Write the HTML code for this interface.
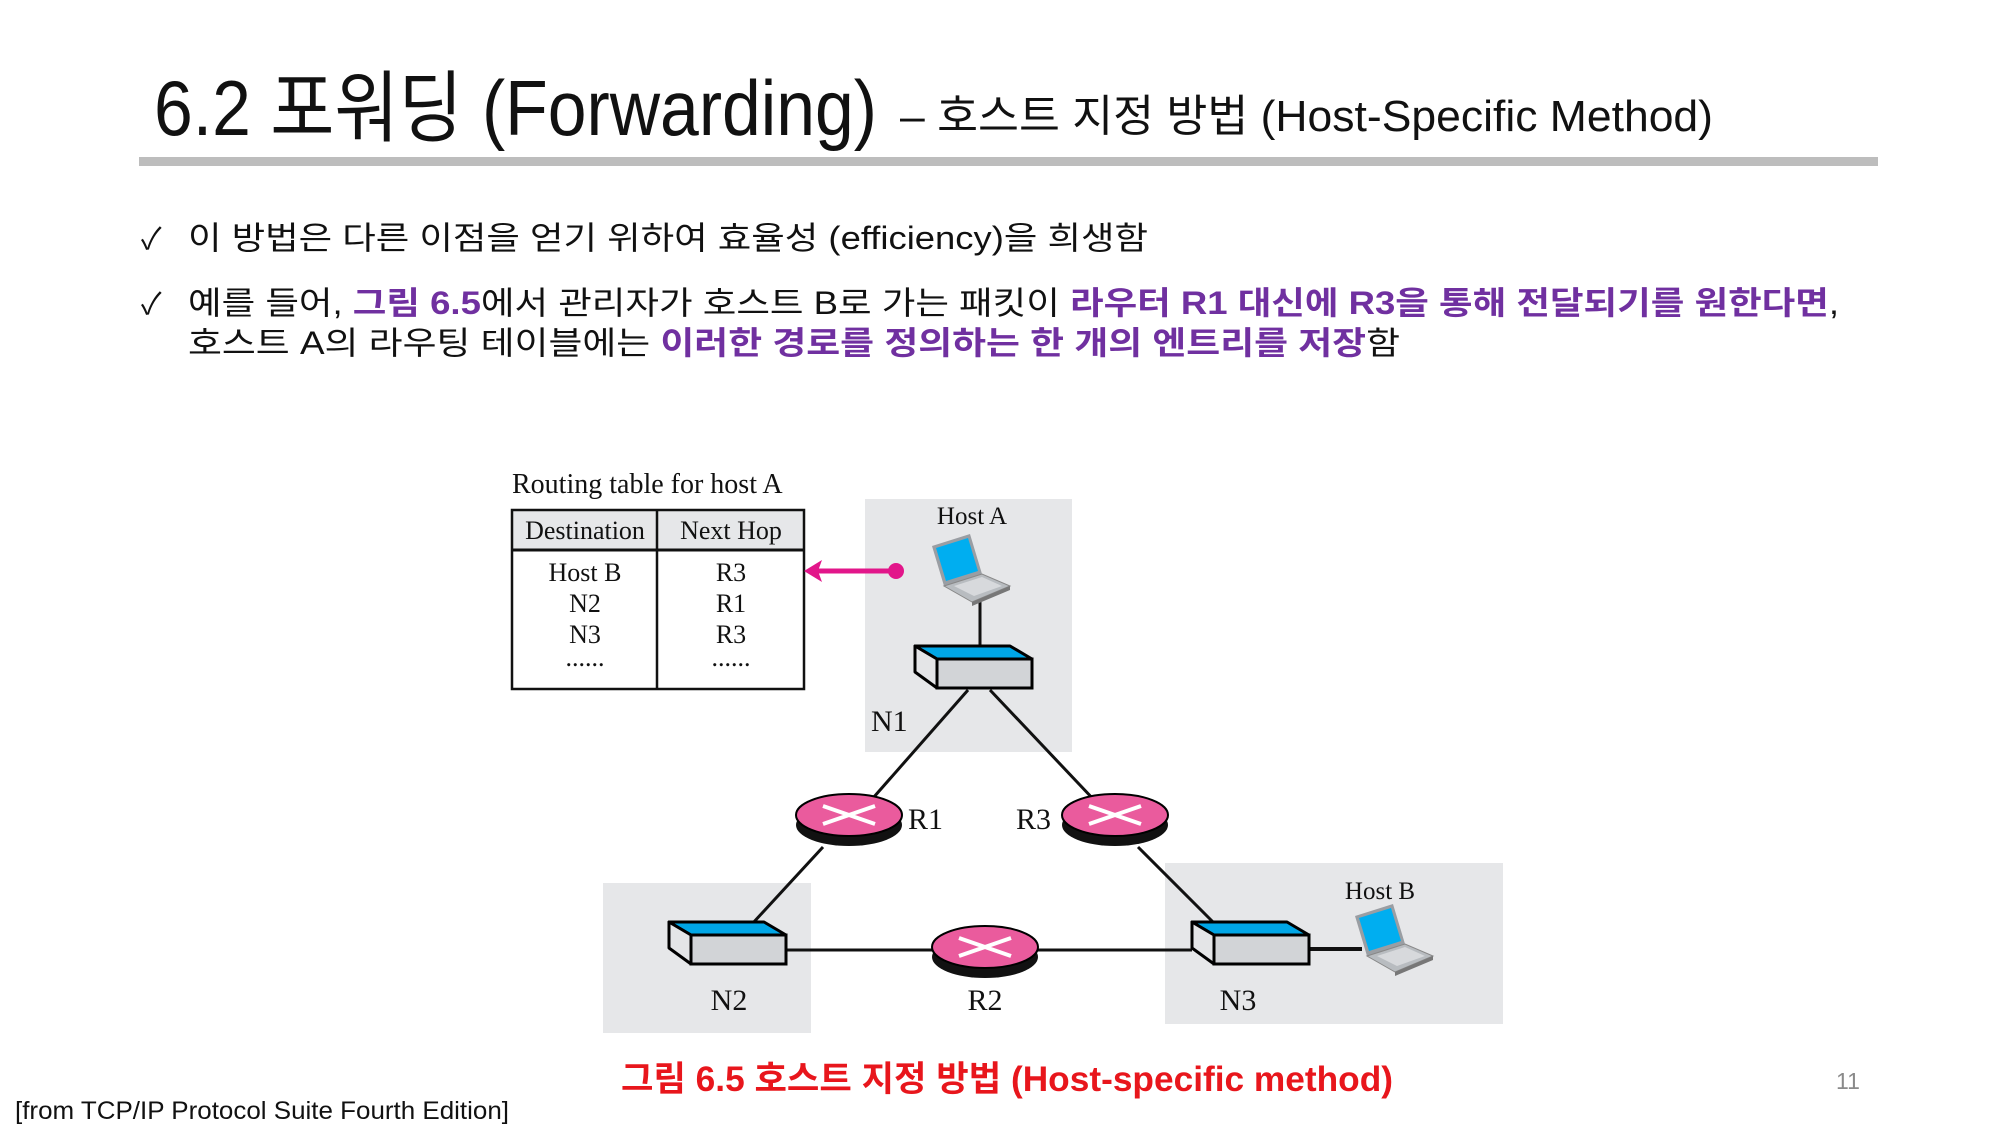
<!DOCTYPE html>
<html><head><meta charset="utf-8"><style>
html,body{margin:0;padding:0;background:#fff;}
svg{display:block;}
.k{font-family:"Liberation Sans","Noto Sans CJK KR",sans-serif;}
.s{font-family:"Liberation Serif",serif;}
</style></head><body>
<svg width="2000" height="1125" viewBox="0 0 2000 1125" xmlns="http://www.w3.org/2000/svg">
<defs>
<g id="sw">
<polygon points="0,0 95,0 117,13 22,13" fill="#00a6e6" stroke="#000" stroke-width="3" stroke-linejoin="round"/>
<polygon points="0,0 22,13 22,42 0,26" fill="#e4e5e7" stroke="#000" stroke-width="3" stroke-linejoin="round"/>
<rect x="22" y="13" width="95" height="29" fill="#d2d4d7" stroke="#000" stroke-width="3"/>
</g>
<g id="rt">
<ellipse cx="0" cy="10" rx="53" ry="21" fill="#111"/>
<ellipse cx="0" cy="0" rx="53" ry="21" fill="#ea5b9d" stroke="#000" stroke-width="2"/>
<path d="M-26,-9 L26,9 M-26,9 L26,-9" stroke="#fff" stroke-width="4"/>
</g>
<g id="lp">
<polygon points="0,12 38,0 50,40 12,52" fill="#9a9ea3"/>
<polygon points="4,14 36,4 46,37 14,47" fill="#00aef0"/>
<polygon points="12,52 50,40 78,52 40,68" fill="#b8bcc0" stroke="#888" stroke-width="1"/>
<polygon points="22,52 50,43 70,52 42,62" fill="#d7d9dc"/>
<polygon points="40,68 78,52 78,56 40,72" fill="#777"/>
</g>
</defs>

<text class="k" x="154" y="135" font-size="78" fill="#111" textLength="723" lengthAdjust="spacingAndGlyphs">6.2 포워딩 (Forwarding)</text>
<text class="k" x="900" y="131" font-size="44" fill="#111" textLength="813" lengthAdjust="spacingAndGlyphs">– 호스트 지정 방법 (Host-Specific Method)</text>
<rect x="139" y="157" width="1739" height="9" fill="#bdbdbd"/>

<text class="k" x="141" y="249" font-size="30" fill="#111">✓</text>
<text class="k" x="188" y="249" font-size="32" fill="#111" textLength="960" lengthAdjust="spacingAndGlyphs">이 방법은 다른 이점을 얻기 위하여 효율성 (efficiency)을 희생함</text>
<text class="k" x="141" y="314" font-size="30" fill="#111">✓</text>
<text class="k" x="188" y="314" font-size="32" fill="#111" textLength="1651" lengthAdjust="spacingAndGlyphs">예를 들어, <tspan fill="#7030a0" font-weight="bold">그림 6.5</tspan>에서 관리자가 호스트 B로 가는 패킷이 <tspan fill="#7030a0" font-weight="bold">라우터 R1 대신에 R3을 통해 전달되기를 원한다면</tspan>,</text>
<text class="k" x="188" y="354" font-size="32" fill="#111" textLength="1212" lengthAdjust="spacingAndGlyphs">호스트 A의 라우팅 테이블에는 <tspan fill="#7030a0" font-weight="bold">이러한 경로를 정의하는 한 개의 엔트리를 저장</tspan>함</text>

<!-- gray boxes -->
<rect x="865" y="499" width="207" height="253" fill="#e6e7e9"/>
<rect x="603" y="883" width="208" height="150" fill="#e6e7e9"/>
<rect x="1165" y="863" width="338" height="161" fill="#e6e7e9"/>

<!-- table -->
<text class="s" x="512" y="493" font-size="28" fill="#111">Routing table for host A</text>
<rect x="512" y="510" width="292" height="40" fill="#e6e7e9"/>
<rect x="512" y="510" width="292" height="179" fill="none" stroke="#111" stroke-width="2.5"/>
<line x1="512" y1="550" x2="804" y2="550" stroke="#111" stroke-width="3"/>
<line x1="657" y1="510" x2="657" y2="689" stroke="#111" stroke-width="2.5"/>
<g class="s" font-size="26" fill="#111" text-anchor="middle">
<text x="585" y="539">Destination</text><text x="731" y="539">Next Hop</text>
<text x="585" y="581">Host B</text><text x="731" y="581">R3</text>
<text x="585" y="612">N2</text><text x="731" y="612">R1</text>
<text x="585" y="643">N3</text><text x="731" y="643">R3</text>
<text x="585" y="666">......</text><text x="731" y="666">......</text>
</g>
<!-- arrow -->
<line x1="818" y1="571" x2="896" y2="571" stroke="#e2168a" stroke-width="5"/>
<circle cx="896" cy="571" r="8" fill="#e2168a"/>
<polygon points="804,571 822,560 818,571 822,582" fill="#e2168a"/>

<!-- lines -->
<g stroke="#111" stroke-width="3">
<line x1="980" y1="600" x2="980" y2="648"/>
<line x1="968" y1="690" x2="866" y2="806"/>
<line x1="990" y1="690" x2="1096" y2="802"/>
<line x1="823" y1="847" x2="752" y2="924"/>
<line x1="1138" y1="847" x2="1215" y2="924"/>
<line x1="786" y1="950" x2="1192" y2="950"/>
<line x1="1309" y1="949" x2="1362" y2="949" stroke-width="4"/>
</g>

<use href="#sw" x="915" y="646"/>
<use href="#sw" x="669" y="922"/>
<use href="#sw" x="1192" y="922"/>
<use href="#rt" x="849" y="815"/>
<use href="#rt" x="1115" y="815"/>
<use href="#rt" x="985" y="947"/>
<use href="#lp" x="932" y="534"/>
<use href="#lp" x="1355" y="904"/>

<g class="s" font-size="30" fill="#111">
<text x="972" y="524" font-size="25" text-anchor="middle">Host A</text>
<text x="1380" y="899" font-size="25" text-anchor="middle">Host B</text>
<text x="871" y="731">N1</text>
<text x="908" y="829">R1</text>
<text x="1016" y="829">R3</text>
<text x="729" y="1010" text-anchor="middle">N2</text>
<text x="985" y="1010" text-anchor="middle">R2</text>
<text x="1238" y="1010" text-anchor="middle">N3</text>
</g>

<text class="k" x="621" y="1091" font-size="35" font-weight="bold" fill="#e8161c" textLength="772" lengthAdjust="spacingAndGlyphs">그림 6.5 호스트 지정 방법 (Host-specific method)</text>
<text class="k" x="1848" y="1089" font-size="23" fill="#8a8a8a" text-anchor="middle">11</text>
<text class="k" x="15" y="1119" font-size="25" fill="#111" textLength="494" lengthAdjust="spacingAndGlyphs">[from TCP/IP Protocol Suite Fourth Edition]</text>
</svg>
</body></html>
